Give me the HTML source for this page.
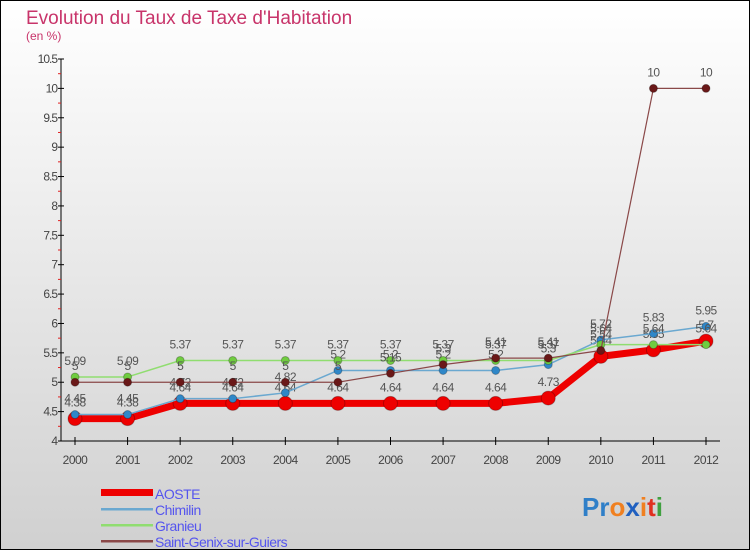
<!DOCTYPE html>
<html><head><meta charset="utf-8"><style>
body{margin:0;width:750px;height:550px;overflow:hidden;font-family:"Liberation Sans",sans-serif}
svg{display:block}
</style></head><body>
<svg id="chart" width="750" height="550" xmlns="http://www.w3.org/2000/svg">
<defs><linearGradient id="bg" x1="0" y1="0" x2="0" y2="1"><stop offset="0" stop-color="#ffffff"/><stop offset="1" stop-color="#d0d0d0"/></linearGradient></defs>
<rect x="0.5" y="0.5" width="749" height="549" fill="url(#bg)" stroke="#000"/>
<text x="26" y="24" font-size="19" fill="#c8346a">Evolution du Taux de Taxe d'Habitation</text>
<text x="26" y="40" font-size="12" fill="#c8346a">(en %)</text>
<g id="axes"></g><g id="series"></g><g id="legend"></g>
<text x="582" y="516" font-size="26" font-weight="bold"><tspan fill="#2f7fc8">Pr</tspan><tspan fill="#f08020">o</tspan><tspan fill="#2060c0">x</tspan><tspan fill="#f08020">i</tspan><tspan fill="#e03020">t</tspan><tspan fill="#40a040">i</tspan></text>
</svg>
<script>
const years=[2000,2001,2002,2003,2004,2005,2006,2007,2008,2009,2010,2011,2012];
const yTicks=[4,4.5,5,5.5,6,6.5,7,7.5,8,8.5,9,9.5,10,10.5];
const aoste=[4.38,4.38,4.64,4.64,4.64,4.64,4.64,4.64,4.64,4.73,5.44,5.55,5.70];
const chimilin=[4.45,4.45,4.72,4.72,4.82,5.2,5.2,5.2,5.2,5.3,5.72,5.83,5.95];
const granieu=[5.09,5.09,5.37,5.37,5.37,5.37,5.37,5.37,5.37,5.37,5.64,5.64,5.64];
const genix=[5,5,5,5,5,5,5.15,5.3,5.41,5.41,5.54,10,10];
const NS="http://www.w3.org/2000/svg";
const xS=i=>75+i*(706-75)/12;
const yS=v=>441-(v-4)*(441-59)/6.5;
function mk(tag,attrs,parent){const e=document.createElementNS(NS,tag);for(const k in attrs)e.setAttribute(k,attrs[k]);parent.appendChild(e);return e;}
const axes=document.getElementById('axes');
let l=mk('line',{x1:61,y1:59,x2:61,y2:441,stroke:'#000'},axes);


l=mk('line',{x1:61,y1:441,x2:720,y2:441,stroke:'#000'},axes);


yTicks.forEach((v,i)=>{const y=yS(v);
 mk('line',{x1:58,y1:y,x2:64,y2:y,stroke:'#000'},axes);
 if(i<yTicks.length-1)mk('line',{x1:58,y1:yS(v+0.25),x2:61,y2:yS(v+0.25),stroke:'#e02020'},axes);
 const t=mk('text',{x:57,y:y+4,'font-size':12,fill:'#444','text-anchor':'end','letter-spacing':'-1'},axes);t.textContent=String(v);
 
 });
years.forEach((yr,i)=>{const x=xS(i);
 mk('line',{x1:x,y1:437,x2:x,y2:445,stroke:'#000'},axes);
 const t=mk('text',{x:x,y:464,'font-size':12,fill:'#444','text-anchor':'middle','letter-spacing':'-0.5'},axes);t.textContent=yr;
 
 });
const series=[
 {name:'AOSTE',data:aoste,color:'#ee0000',w:7,r:7,key:'aoste'},
 {name:'Chimilin',data:chimilin,color:'#2f87c8',line:'#6aa8d0',w:1.5,r:4,key:'chimilin'},
 {name:'Granieu',data:granieu,color:'#70cc40',line:'#90dd70',w:1.5,r:4,key:'granieu'},
 {name:'Saint-Genix-sur-Guiers',data:genix,color:'#6a1818',line:'#8a4848',w:1.2,r:4,key:'saint-genix'}];
const sg=document.getElementById('series');
series.forEach(s=>{const g=mk('g',{},sg);
 
 
 const pts=s.data.map((v,i)=>xS(i)+','+yS(v)).join(' ');
 const pl=mk('polyline',{points:pts,fill:'none',stroke:s.line||s.color,'stroke-width':s.w,'stroke-linejoin':'round'},g);
 
 
 s.data.forEach((v,i)=>{const c=mk('circle',{cx:xS(i),cy:yS(v),r:s.r,fill:s.color,stroke:'rgba(0,0,0,0.25)'},g);
  
  
  const t=mk('text',{x:xS(i),y:yS(v)-12,'font-size':12,fill:'#555','text-anchor':'middle','letter-spacing':'-0.5'},g);t.textContent=String(v);
  
  });});
const lg=document.getElementById('legend');
series.forEach((s,i)=>{const y=493+i*16;
 const ln=mk('rect',{x:101,y:y-(i==0?4:1),width:52,height:i==0?7:2.5,fill:s.line||s.color},lg);
 
 
 const t=mk('text',{x:155,y:y+6,'font-size':14,fill:'#5555ee','letter-spacing':'-0.5'},lg);t.textContent=s.name;
 
 });
</script>
</body></html>
